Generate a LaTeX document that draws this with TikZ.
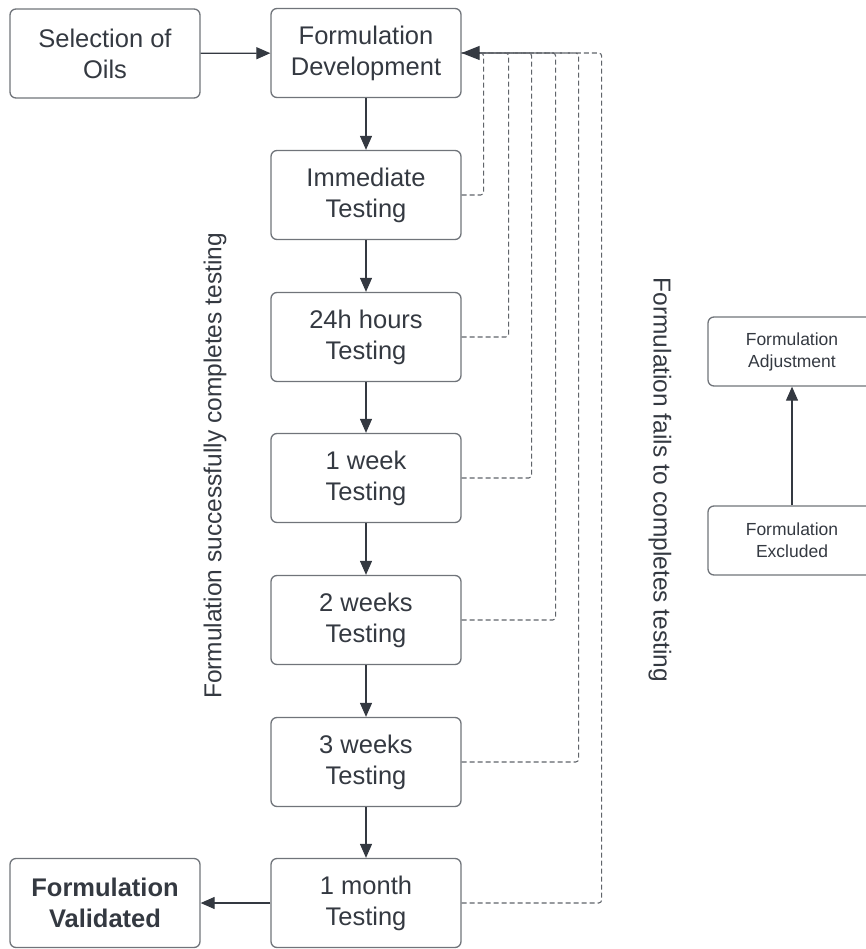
\documentclass[tikz,border=0pt]{standalone}
\usepackage{fontspec}
\setmainfont{Liberation Sans}
\usetikzlibrary{arrows.meta,positioning,calc}
\definecolor{boxline}{RGB}{112,116,122}
\definecolor{inkdark}{RGB}{52,57,65}
\definecolor{dashgray}{RGB}{96,100,106}
\tikzset{
  stage/.style={draw=boxline, line width=1.3pt, rounded corners=6pt,
    minimum width=190pt, minimum height=89pt, align=center, text=inkdark,
    font=\fontsize{25.5}{31}\selectfont},
  minor/.style={stage, minimum width=168pt, minimum height=69pt,
    font=\fontsize{17.5}{22}\selectfont},
  flow/.style={draw=inkdark, line width=1.2pt,
    -{Triangle[length=14pt,width=12pt]}},
  retry/.style={draw=dashgray, line width=1.1pt, dash pattern=on 5pt off 3pt,
    rounded corners=3pt},
  sidenote/.style={text=inkdark, font=\fontsize{24.5}{28}\selectfont}
}

\begin{document}
\begin{tikzpicture}[x=1pt, y=-1pt]
  \useasboundingbox (0,0) rectangle (865,949);

  % main column
  \node[stage] (oils) at (105,53.5) {Selection of\\Oils};
  \node[stage] (dev) at (366,53) {Formulation\\Development};
  \node[stage] (t0) at (366,195) {Immediate\\Testing};
  \node[stage] (t1) at (366,337) {24h hours\\Testing};
  \node[stage] (t2) at (366,478) {1 week\\Testing};
  \node[stage] (t3) at (366,620) {2 weeks\\Testing};
  \node[stage] (t4) at (366,762) {3 weeks\\Testing};
  \node[stage] (t5) at (366,903) {1 month\\Testing};
  \node[stage, font=\fontsize{25.5}{31}\selectfont\bfseries] (done) at (105,903)
    {Formulation\\Validated};

  % legend boxes
  \node[minor] (adjust) at (792,351.5) {Formulation\\Adjustment};
  \node[minor] (excl) at (792,540.5) {Formulation\\Excluded};

  % side labels
  \node[sidenote, rotate=90] (okLabel) at (215,466)
    {Formulation successfully completes testing};
  \node[sidenote, rotate=-90] (failLabel) at (660,480)
    {Formulation fails to completes testing};

  % solid arrows
  \draw[flow] (oils) -- (dev);
  \draw[flow] (dev) -- (t0);
  \draw[flow] (t0) -- (t1);
  \draw[flow] (t1) -- (t2);
  \draw[flow] (t2) -- (t3);
  \draw[flow] (t3) -- (t4);
  \draw[flow] (t4) -- (t5);
  \draw[flow] (t5) -- (done);
  \draw[flow] (excl) -- (adjust);

  % dashed return paths
  \foreach \t/\dx in {t0/22, t1/47, t2/70, t3/94, t4/117, t5/140}{
    \coordinate (top-\t) at ($(dev.east)+(\dx,0)$);
    \draw[retry] (\t.east) -| (top-\t) -- (dev.east);
  }
  \draw[draw=inkdark, line width=1.2pt, -{Triangle[length=18pt,width=14pt]}]
    ($(dev.east)+(18,0)$) -- (dev.east);
\end{tikzpicture}
\end{document}
